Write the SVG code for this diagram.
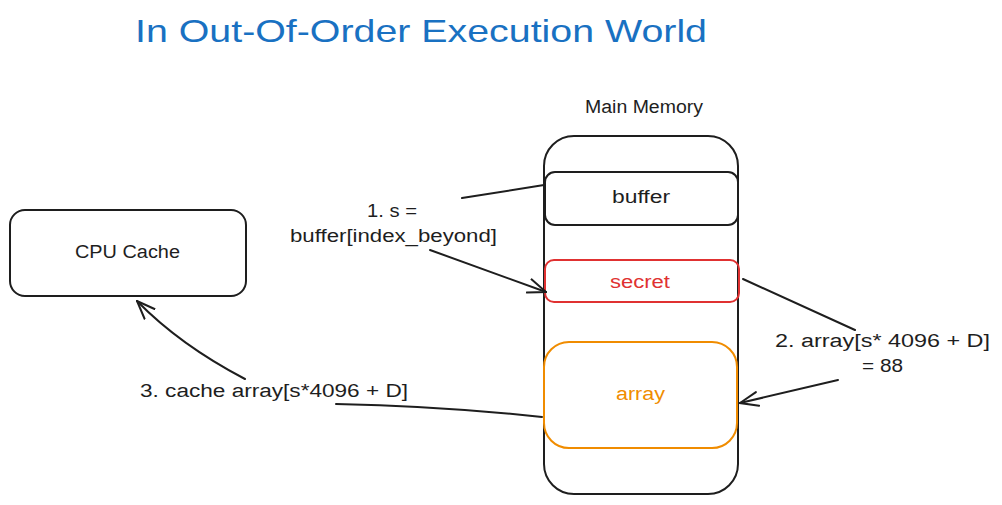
<svg xmlns="http://www.w3.org/2000/svg" width="1002" height="505" viewBox="0 0 1002 505">
<style>
  text { font-family: "Liberation Sans", "DejaVu Sans", sans-serif; font-size: 18px; fill: #1e1e1e; }
  .box { fill: none; stroke: #1e1e1e; stroke-width: 2; }
  .conn { fill: none; stroke: #1e1e1e; stroke-width: 2; stroke-linecap: round; }
  .title { font-size: 32px; fill: #1971c2; }
</style>
<defs>
  <marker id="arrow" viewBox="0 0 20 20" refX="19" refY="10" markerWidth="20" markerHeight="20" markerUnits="userSpaceOnUse" orient="auto">
    <path d="M1,3 L19,10 L1,17" fill="none" stroke="#1e1e1e" stroke-width="2" stroke-linecap="round"/>
  </marker>
</defs>
<rect width="1002" height="505" fill="#ffffff"/>
<text class="title" x="135" y="42" textLength="572" lengthAdjust="spacingAndGlyphs">In Out-Of-Order Execution World</text>

<g id="main-memory">
  <rect class="box" x="544" y="136" width="194" height="358" rx="30"/>
  <text x="585" y="113" textLength="118" lengthAdjust="spacingAndGlyphs">Main Memory</text>
</g>
<g id="buffer">
  <rect class="box" x="545" y="172" width="193" height="53" rx="10"/>
  <text x="612" y="203" textLength="58" lengthAdjust="spacingAndGlyphs">buffer</text>
</g>
<g id="secret">
  <rect x="545" y="260" width="194" height="42" rx="9" fill="none" stroke="#e03131" stroke-width="2"/>
  <text x="610" y="288" textLength="60" lengthAdjust="spacingAndGlyphs" style="fill:#e03131">secret</text>
</g>
<g id="array">
  <rect x="544" y="342" width="193" height="106" rx="25" fill="none" stroke="#f08c00" stroke-width="2"/>
  <text x="616" y="400" textLength="49" lengthAdjust="spacingAndGlyphs" style="fill:#f08c00">array</text>
</g>
<g id="cpu-cache">
  <rect class="box" x="10" y="210" width="236" height="86" rx="15"/>
  <text x="75" y="258" textLength="105" lengthAdjust="spacingAndGlyphs">CPU Cache</text>
</g>

<g id="connectors">
  <path class="conn" d="M544,185 L462,198"/>
  <path class="conn" d="M430,250 L546,292" marker-end="url(#arrow)"/>
  <path class="conn" d="M743,279 L855,330"/>
  <path class="conn" d="M838,380 L740,403" marker-end="url(#arrow)"/>
  <path class="conn" d="M542,417 Q440,406 336,404"/>
  <path class="conn" d="M245,379 Q180,345 137,301" marker-end="url(#arrow)"/>
</g>

<g id="labels">
  <text x="367" y="217" textLength="50" lengthAdjust="spacingAndGlyphs">1. s =</text>
  <text x="290" y="242" textLength="207" lengthAdjust="spacingAndGlyphs">buffer[index_beyond]</text>
  <text x="775" y="347" textLength="215" lengthAdjust="spacingAndGlyphs">2. array[s* 4096 + D]</text>
  <text x="862" y="372" textLength="41" lengthAdjust="spacingAndGlyphs">= 88</text>
  <text x="140" y="397" textLength="268" lengthAdjust="spacingAndGlyphs">3. cache array[s*4096 + D]</text>
</g>
</svg>
